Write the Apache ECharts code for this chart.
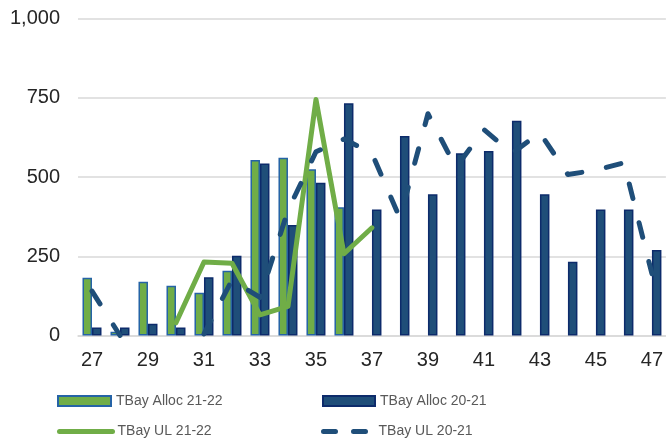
<!DOCTYPE html>
<html>
<head>
<meta charset="utf-8">
<script src="https://cdn.jsdelivr.net/npm/echarts@6/dist/echarts.min.js"></script>
<style>
  html, body { margin: 0; padding: 0; background: #ffffff; }
  #chart { width: 666px; height: 440px; }
</style>
</head>
<body>
<div id="chart"></div>
<script>
// ---- data ----
const categories = ['27','28','29','30','31','32','33','34','35','36','37','38','39','40','41','42','43','44','45','46','47'];
const allocNew = [182, 12, 170, 157, 135, 204, 554, 561, 525, 405, null, null, null, null, null, null, null, null, null, null, null];
const allocOld = [25, 25, 37, 25, 184, 252, 543, 349, 482, 733, 398, 630, 446, 575, 582, 678, 446, 233, 398, 398, 270];
const ulNew = [null, null, null, 40, 232, 228, 65, 92, 745, 258, 340, null, null, null, null, null, null, null, null, null, null];
const ulOld = [140, 0, null, null, 5, 175, 120, 395, 580, 620, 575, 370, 700, 530, 650, 575, 640, 508, 522, 545, 195];
const yTicks = { min: 0, max: 1000, interval: 250 };

const GREEN = '#70AD47';
const NAVY = '#1F4E79';
const legendText = { color: '#595959', fontSize: 14, fontFamily: 'Liberation Sans, Arial, sans-serif', lineHeight: 16 };
const hiddenSymbol = { opacity: 0, color: 'transparent', borderWidth: 0 };

const chart = echarts.init(document.getElementById('chart'), null, { renderer: 'canvas' });
chart.setOption({
  animation: false,
  backgroundColor: '#ffffff',
  grid: { left: 78, right: -2, top: 18.7, bottom: 104.5, containLabel: false },
  legend: [
    { data: [{ name: 'TBay Alloc 21-22', icon: 'rect' }], left: 57, top: 393, padding: 0, itemWidth: 53, itemHeight: 10, textStyle: legendText },
    { data: [{ name: 'TBay Alloc 20-21', icon: 'rect' }], left: 322, top: 393, padding: 0, itemWidth: 52, itemHeight: 10, textStyle: legendText },
    { data: [{ name: 'TBay UL 21-22', itemStyle: hiddenSymbol, lineStyle: { width: 5, cap: 'round', color: GREEN } }],
      left: 57, top: 423.5, padding: 0, itemWidth: 53, itemHeight: 10, textStyle: legendText },
    { data: [{ name: 'TBay UL 20-21', itemStyle: hiddenSymbol, lineStyle: { width: 5, type: [12, 18], cap: 'round', color: NAVY } }],
      left: 321, top: 423.5, padding: 0, itemWidth: 50, itemHeight: 10, textStyle: legendText }
  ],
  xAxis: {
    type: 'category',
    data: categories,
    axisTick: { show: false },
    axisLine: { lineStyle: { color: '#D9D9D9', width: 1.5 } },
    axisLabel: { interval: 1, color: '#262626', fontSize: 20, fontFamily: 'Liberation Sans, Arial, sans-serif', margin: 15 }
  },
  yAxis: {
    type: 'value',
    min: yTicks.min, max: yTicks.max, interval: yTicks.interval,
    axisLine: { show: false },
    axisTick: { show: false },
    splitLine: { lineStyle: { color: '#D9D9D9', width: 1.5 } },
    axisLabel: {
      color: '#262626', fontSize: 20, fontFamily: 'Liberation Sans, Arial, sans-serif', margin: 18,
      formatter: v => v.toLocaleString('en-US')
    }
  },
  series: [
    {
      name: 'TBay Alloc 21-22', type: 'bar', data: allocNew,
      barWidth: 9.5, barGap: '0%',
      itemStyle: { color: GREEN, borderColor: '#2563A6', borderWidth: 1.5 }
    },
    {
      name: 'TBay Alloc 20-21', type: 'bar', data: allocOld,
      barWidth: 9.5, barGap: '0%',
      itemStyle: { color: NAVY, borderColor: '#0D2B6B', borderWidth: 1.5 }
    },
    {
      name: 'TBay UL 21-22', type: 'line', data: ulNew,
      symbol: 'none', connectNulls: false,
      lineStyle: { color: GREEN, width: 5, join: 'round', cap: 'round' },
      itemStyle: { color: GREEN }
    },
    {
      name: 'TBay UL 20-21', type: 'line', data: ulOld,
      symbol: 'none', connectNulls: false,
      lineStyle: { color: NAVY, width: 5, type: [15, 25], cap: 'round', join: 'round' },
      itemStyle: { color: NAVY }
    }
  ]
});
</script>
</body>
</html>
